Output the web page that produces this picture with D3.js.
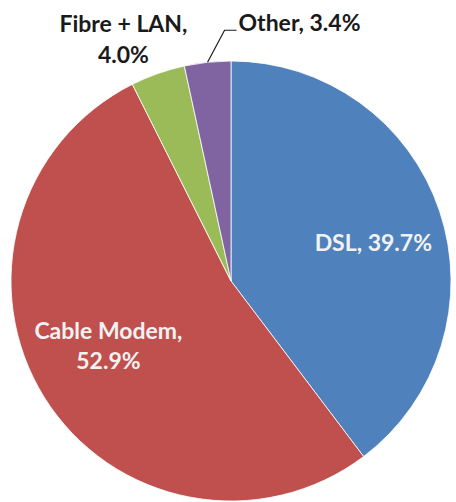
<!DOCTYPE html>
<html>
<head>
<meta charset="utf-8">
<script src="https://cdn.jsdelivr.net/npm/d3@7"></script>
<style>
  html, body { margin: 0; padding: 0; background: #fff; }
  svg { display: block; }
  text { font-family: Lato, "Open Sans", sans-serif; font-weight: bold; }
</style>
</head>
<body>
<div id="chart"></div>
<script>
// Broadband connection types, share of subscriptions (%)
const categories = ["DSL", "Cable Modem", "Fibre + LAN", "Other"];
const shares = [39.7, 52.9, 4.0, 3.4];
const colors = ["#4F81BD", "#C0504D", "#9BBB59", "#8064A2"];

const width = 456, height = 502;
const cx = 231, cy = 281, R = 220;
const fontSize = 23;

const svg = d3.select("#chart").append("svg")
  .attr("width", width).attr("height", height);

const g = svg.append("g").attr("transform", `translate(${cx},${cy})`);

const pie = d3.pie().sort(null).value(d => d.value);
const arcs = pie(categories.map((c, i) => ({ name: c, value: shares[i], color: colors[i] })));

const arc = d3.arc().innerRadius(0).outerRadius(R);

g.selectAll("path.slice")
  .data(arcs)
  .join("path")
  .attr("class", "slice")
  .attr("d", arc)
  .attr("fill", d => d.data.color)
  .attr("stroke", "#fff")
  .attr("stroke-width", 0.8);

const fmt = v => v.toFixed(1) + "%";
const polar = (a, r) => [r * Math.sin(a), -r * Math.cos(a)];
const mid = d => (d.startAngle + d.endAngle) / 2;

// Inside labels for the two large slices
const inside = [
  { i: 0, r: 0.67, shift: 0.06, lines: d => [`${d.data.name}, ${fmt(d.data.value)}`] },
  { i: 1, r: 0.63, shift: 0.07, lines: d => [`${d.data.name},`, fmt(d.data.value)] }
];
inside.forEach(s => {
  const d = arcs[s.i];
  const [x, y] = polar(mid(d) + s.shift, R * s.r);
  const t = g.append("text")
    .attr("text-anchor", "middle")
    .attr("fill", "#F2F2F2")
    .attr("font-size", fontSize);
  const ls = s.lines(d);
  ls.forEach((l, k) => {
    t.append("tspan")
      .attr("x", x)
      .attr("y", y + 8 + (k - (ls.length - 1) / 2) * 30)
      .text(l);
  });
});

// Outside label for Fibre + LAN
{
  const d = arcs[2];
  const [x, y] = polar(mid(d), R + 40);
  const t = g.append("text")
    .attr("text-anchor", "middle")
    .attr("fill", "#1a1a1a")
    .attr("font-size", fontSize);
  t.append("tspan").attr("x", x - 21).attr("y", y - 4).text(`${d.data.name},`);
  t.append("tspan").attr("x", x - 21).attr("y", y + 27).text(fmt(d.data.value));
}

// Outside label for Other with a leader line
{
  const d = arcs[3];
  const [x0, y0] = polar(mid(d), R);
  const x1 = x0 + 17, y1 = y0 - 32;
  const x2 = x1 + 12;
  g.append("path")
    .attr("d", `M${x0},${y0}L${x1},${y1}L${x2},${y1}`)
    .attr("fill", "none")
    .attr("stroke", "#1a1a1a")
    .attr("stroke-width", 1.2);
  g.append("text")
    .attr("x", x2 + 2)
    .attr("y", y1 + 1)
    .attr("fill", "#1a1a1a")
    .attr("font-size", fontSize)
    .text(`${d.data.name}, ${fmt(d.data.value)}`);
}
</script>
</body>
</html>
